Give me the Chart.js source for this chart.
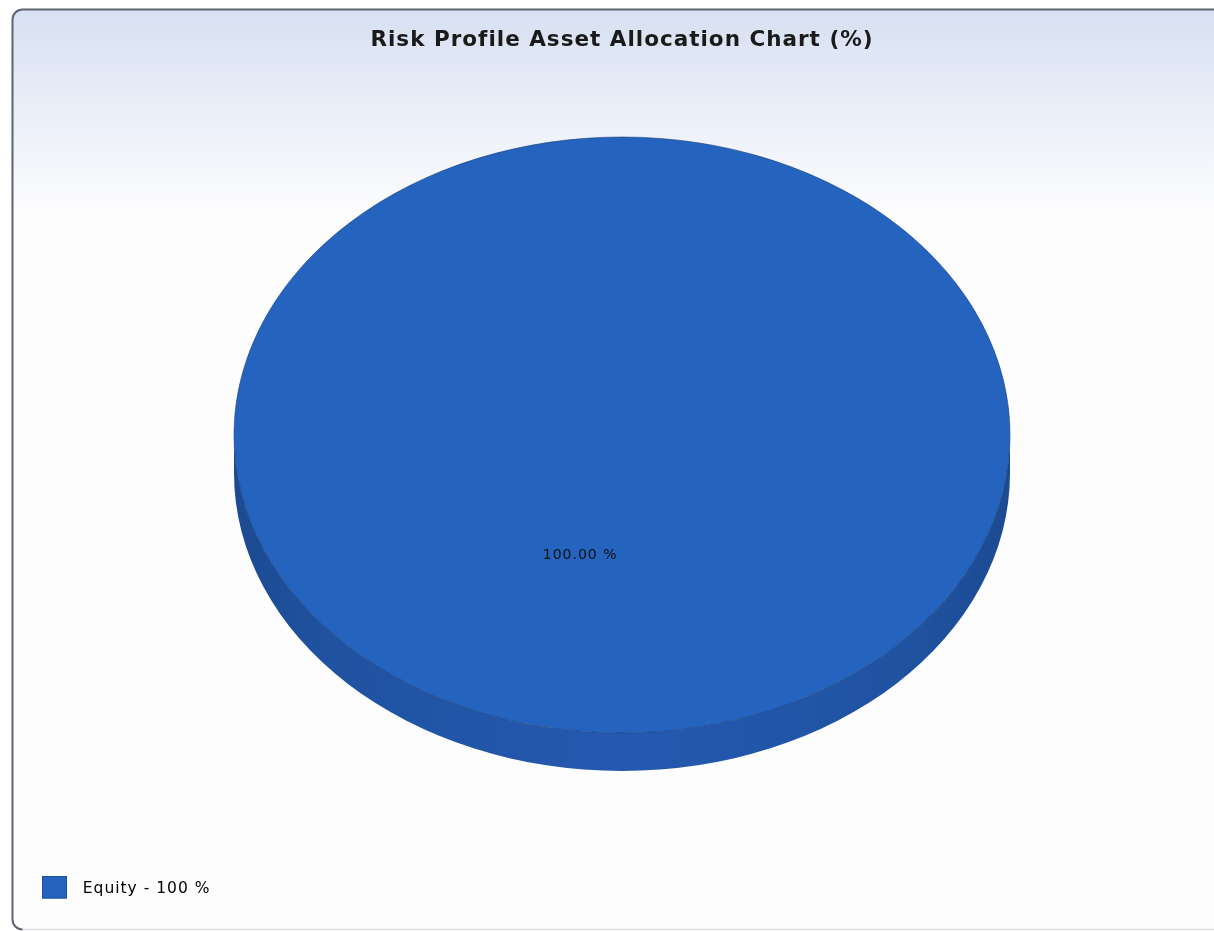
<!DOCTYPE html>
<html>
<head>
<meta charset="utf-8">
<script src="https://cdn.jsdelivr.net/npm/chart.js@4/dist/chart.umd.min.js"></script>
<style>
  html, body { margin: 0; padding: 0; background: #ffffff; }
  canvas { display: block; }
</style>
</head>
<body>
<canvas id="allocationChart" width="1214" height="931"></canvas>
<script>
// Asset classes and their share of the portfolio (%)
const categories = ['Equity'];
const allocation = [100];
const sliceColors = ['#2463be'];
const wallColors = ['#1f52a0'];
const chartTitle = 'Risk Profile Asset Allocation Chart (%)';

// Legend swatch: a square in the upper left of a wider transparent tile,
// which leaves a gap between the swatch and its label text
function legendSwatch(color) {
  const c = document.createElement('canvas');
  c.width = 33;
  c.height = 27;
  const g = c.getContext('2d');
  g.fillStyle = color;
  g.fillRect(0, 0, 25, 23);
  g.strokeStyle = '#1f4f98';
  g.lineWidth = 1;
  g.strokeRect(0.5, 0.5, 24, 22);
  return c;
}

// Rounded panel with a soft blue header gradient behind the chart
const panelBackground = {
  id: 'panelBackground',
  beforeDraw(chart) {
    const { ctx, width, height } = chart;
    const x0 = 12.5, y0 = 9.5, x1 = width + 20, y1 = height - 1.5, r = 10;
    ctx.save();
    ctx.fillStyle = '#ffffff';
    ctx.fillRect(0, 0, width, height);
    const grad = ctx.createLinearGradient(0, y0, 0, 215);
    grad.addColorStop(0, '#d7e0f2');
    grad.addColorStop(1, '#fdfdfe');
    ctx.beginPath();
    ctx.roundRect(x0, y0, x1 - x0, y1 - y0, r);
    ctx.fillStyle = grad;
    ctx.fill();
    // bottom edge: light
    ctx.beginPath();
    ctx.moveTo(x0 + r, y1);
    ctx.lineTo(x1, y1);
    ctx.lineWidth = 1.5;
    ctx.strokeStyle = '#dedfe2';
    ctx.stroke();
    // left and top edges: dark
    ctx.beginPath();
    ctx.moveTo(x0 + r, y1);
    ctx.arcTo(x0, y1, x0, y1 - r, r);
    ctx.lineTo(x0, y0 + r);
    ctx.arcTo(x0, y0, x0 + r, y0, r);
    ctx.lineTo(x1, y0);
    ctx.lineWidth = 2;
    ctx.strokeStyle = '#5d656f';
    ctx.stroke();
    ctx.restore();
    // spaced-out lettering for all chart text
    ctx.letterSpacing = '1px';
  }
};

// Tilts the pie into an ellipse and extrudes a darker wall under the front half
const tiltedPie = {
  id: 'tiltedPie',
  beforeDatasetsDraw(chart, args, opts) {
    const arcs = chart.getDatasetMeta(0).data;
    if (!arcs.length) return;
    const { ctx } = chart;
    const cx = arcs[0].x, cy = arcs[0].y;
    const k = opts.tilt;
    const d = opts.depth / k;
    ctx.save();
    ctx.translate(cx, opts.centerY);
    ctx.scale(1, k);
    ctx.translate(-cx, -cy);

    arcs.forEach((arc, i) => {
      const r = arc.outerRadius;
      // only the part of the slice facing the viewer (angles 0..PI) shows a wall
      let a0 = Math.max(arc.startAngle, 0);
      let a1 = Math.min(arc.endAngle, Math.PI);
      if (arc.endAngle - arc.startAngle >= 2 * Math.PI - 1e-6) { a0 = 0; a1 = Math.PI; }
      if (a1 <= a0) return;
      const wall = ctx.createLinearGradient(cx - r, 0, cx + r, 0);
      const base = wallColors[i % wallColors.length];
      wall.addColorStop(0, '#1c4a92');
      wall.addColorStop(0.12, base);
      wall.addColorStop(0.5, '#2459b0');
      wall.addColorStop(0.88, base);
      wall.addColorStop(1, '#1c4a92');
      ctx.beginPath();
      ctx.arc(cx, cy, r, a0, a1, false);
      ctx.lineTo(cx + Math.cos(a1) * r, cy + Math.sin(a1) * r + d);
      ctx.arc(cx, cy + d, r, a1, a0, true);
      ctx.closePath();
      ctx.fillStyle = wall;
      ctx.fill();
    });
  },
  afterDatasetsDraw(chart, args, opts) {
    const arcs = chart.getDatasetMeta(0).data;
    if (!arcs.length) return;
    const { ctx } = chart;
    // rim of the top face
    const cx = arcs[0].x, cy = arcs[0].y;
    ctx.beginPath();
    ctx.arc(cx, cy, arcs[0].outerRadius, 0, Math.PI * 2);
    ctx.restore();
    ctx.lineWidth = 1;
    ctx.strokeStyle = 'rgba(22, 60, 120, 0.6)';
    ctx.stroke();

    // value labels on the top face
    const k = opts.tilt;
    ctx.save();
    ctx.font = '14px "DejaVu Sans", sans-serif';
    ctx.fillStyle = '#111111';
    ctx.textAlign = 'center';
    ctx.textBaseline = 'middle';
    arcs.forEach((arc, i) => {
      const mid = (arc.startAngle + arc.endAngle) / 2;
      const rr = arc.outerRadius * opts.labelRadius;
      const x = arc.x + Math.cos(mid) * rr;
      const y = opts.centerY + Math.sin(mid) * rr * k;
      ctx.fillText(allocation[i].toFixed(2) + ' %', x, y);
    });
    ctx.restore();
  }
};

new Chart(document.getElementById('allocationChart'), {
  type: 'pie',
  data: {
    labels: categories,
    datasets: [{
      data: allocation,
      backgroundColor: sliceColors,
      borderWidth: 0
    }]
  },
  options: {
    responsive: false,
    animation: false,
    rotation: 15,
    radius: 388,
    layout: { padding: { left: 32, right: 2, top: 0, bottom: 24 } },
    plugins: {
      tooltip: { enabled: false },
      title: {
        display: true,
        text: chartTitle,
        color: '#1a1a1a',
        font: { family: '"DejaVu Sans", sans-serif', size: 21.5, weight: 'bold' },
        padding: { top: 28, bottom: 10 }
      },
      legend: {
        display: true,
        position: 'bottom',
        align: 'start',
        labels: {
          usePointStyle: true,
          pointStyleWidth: 33,
          boxHeight: 22,
          padding: 10,
          color: '#111111',
          font: { family: '"DejaVu Sans", sans-serif', size: 15.5 },
          generateLabels(chart) {
            return categories.map((name, i) => ({
              text: name + ' - ' + allocation[i] + ' %',
              fillStyle: sliceColors[i],
              strokeStyle: '#1f4f98',
              lineWidth: 0,
              pointStyle: legendSwatch(sliceColors[i]),
              hidden: false,
              index: i
            }));
          }
        }
      },
      tiltedPie: { tilt: 0.768, depth: 38, centerY: 435, labelRadius: 0.417 }
    }
  },
  plugins: [panelBackground, tiltedPie]
});
</script>
</body>
</html>
